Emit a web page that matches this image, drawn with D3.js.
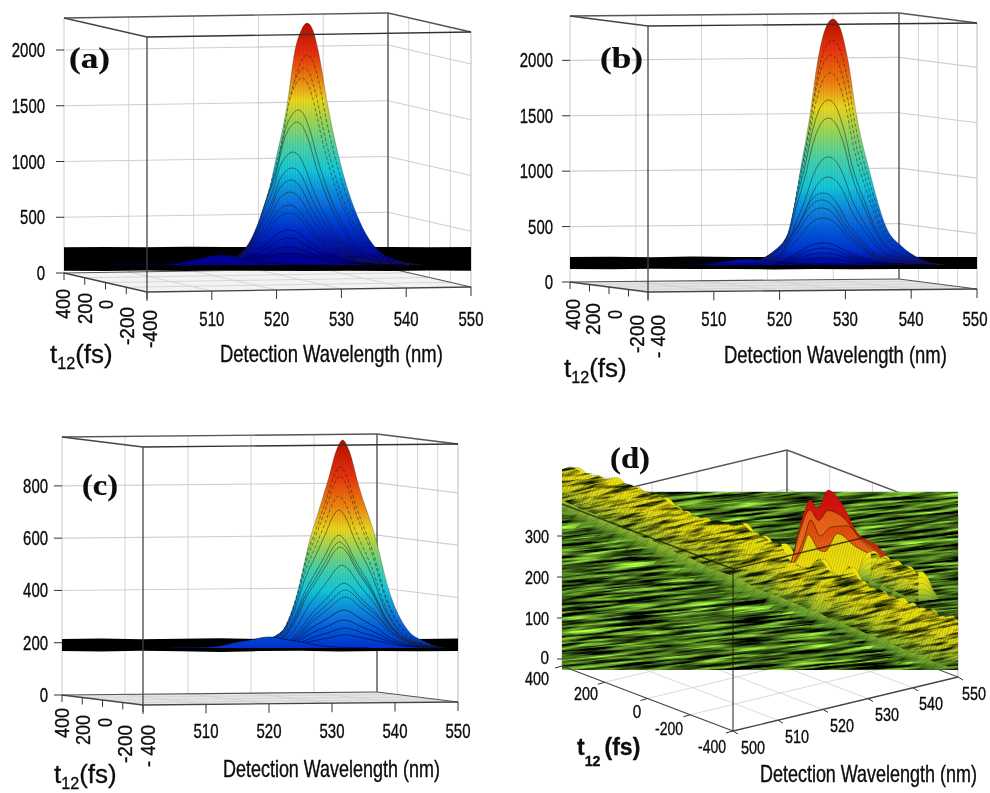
<!DOCTYPE html>
<html><head><meta charset="utf-8">
<script src="https://cdn.jsdelivr.net/npm/d3@7"></script>
<style>html,body{margin:0;padding:0;background:#fff}svg{display:block}</style>
</head><body><div id="chart"></div>
<script>
// ---------- values ----------
const wavelengthTicks = [500, 510, 520, 530, 540, 550];
const delayTicks = [-400, -200, 0, 200, 400];
const countTicksA = [0, 500, 1000, 1500, 2000];
const countTicksB = [0, 500, 1000, 1500, 2000];
const countTicksC = [0, 200, 400, 600, 800];
const countTicksD = [0, 100, 200, 300];

const bandWavelengths = [500, 505, 510, 515, 520, 525, 530, 535, 540, 545, 550];
const aBandHi = [232, 234, 231, 236, 233, 232, 230, 233, 234, 232, 233];
const aBandLo = [20, 18, 22, 19, 24, 20, 17, 21, 19, 22, 20];
const bBandHi = [225, 227, 224, 229, 226, 225, 224, 226, 228, 225, 226];
const bBandLo = [117, 115, 119, 116, 118, 113, 117, 115, 118, 116, 117];
const cBandHi = [214, 216, 213, 215, 217, 214, 213, 216, 215, 214, 216];
const cBandLo = [168, 166, 169, 167, 165, 168, 169, 166, 168, 167, 168];

// apex count and peak wavelength of each t12 slice, tallest first
const aApex = [2242, 1955, 1839, 1749, 1462, 1354, 1085, 942, 834, 726, 610, 538, 386, 314, 233, 179, 161];
const aCentre = [524.7, 524.7, 524.2, 523.9, 523.3, 523.1, 522.5, 522.4, 522.2, 522.1, 521.9, 521.9, 521.9, 521.9, 521.9, 521.9, 511.5];
const bApex = [2370, 2180, 2045, 1883, 1640, 1477, 1126, 946, 802, 739, 667, 577, 351, 306, 261, 216, 205];
const bCentre = [528.1, 528.0, 527.8, 527.7, 527.4, 527.4, 527.4, 527.4, 526.6, 526.4, 526.4, 526.6, 526.6, 526.6, 526.6, 526.6, 515];
const cApex = [976, 873, 838, 762, 708, 612, 586, 566, 497, 428, 402, 375, 325, 287, 256, 230, 222];
const cCentre = [531.7, 531.3, 531.3, 531.1, 531.1, 531.1, 531.2, 531.3, 531.6, 531.9, 532.1, 532.1, 531.9, 531.9, 532.1, 532.1, 520];

// spectral line shape: offset from the peak (nm) and relative height
const aShapeOffset = [-17, -14, -11, -8.5, -6.8, -4.9, -3.1, -1.85, -0.9, 0, 0.9, 1.7, 3.2, 5.1, 7.9, 10.5, 13.9, 18];
const aShapeHeight = [0, 0.01, 0.03, 0.08, 0.19, 0.425, 0.657, 0.888, 0.97, 1, 0.97, 0.888, 0.657, 0.425, 0.194, 0.074, 0.02, 0];
const bShapeOffset = [-17, -13, -9.3, -6.5, -5, -3.5, -2.3, -1, 0, 1, 2.3, 3.6, 5.6, 8.2, 10.5, 12.9, 17];
const bShapeHeight = [0, 0.01, 0.05, 0.148, 0.377, 0.606, 0.83, 0.97, 1, 0.97, 0.83, 0.606, 0.377, 0.148, 0.075, 0.03, 0];
const cShapeOffset = [-16, -14, -9.4, -7, -5.4, -3.8, -2.2, -1, 0, 1, 2.5, 5.2, 7.3, 10.3, 12.7, 16];
const cShapeHeight = [0, 0.02, 0.087, 0.28, 0.5, 0.66, 0.82, 0.95, 1, 0.95, 0.784, 0.53, 0.28, 0.087, 0.035, 0];

// panel (d): ridge stations
const ridgeWavelengths = [500, 501.25, 502.5, 503.75, 505, 506.25, 507.5, 508.75, 510, 511.25, 512.5, 513.75, 515, 516.25, 517.5, 518.75, 520, 521.25, 522.5, 523.75, 525, 526.25, 527.5, 528.75, 530, 531.25, 532.5, 533.75, 535, 536.25, 537.5, 538.75, 540, 541.25, 542.5, 543.75, 545, 546.25, 547.5, 548.75, 550];
const ridgeCrest = [457, 465, 449, 447, 437, 441, 425, 419, 406, 400, 392, 372, 360, 347, 343, 333, 330, 325, 330, 307, 299, 282, 280, 234, 221, 217, 242, 209, 197, 221, 189, 173, 165, 152, 148, 136, 124, 120, 104, 104, 94];
const ridgeFloor = [388, 376, 364, 356, 343, 331, 319, 311, 299, 291, 278, 266, 254, 246, 234, 221, 213, 205, 193, 181, 169, 160, 152, 140, 132, 120, 112, 99, 91, 79, 71, 59, 51, 39, 30, 18, 10, -2, -10, -18, -22];
const ridgeSplitAt = 23; // stations before this index lie behind the double peak
const shoulderWavelengths = [539, 540.5, 542, 543.5, 545];
const shoulderCrest = [262, 250, 238, 225, 212];
const shoulderFloor = [190, 178, 165, 152, 140];
const humpOffset = [-1, -0.7, -0.4, -0.15, 0.15, 0.4, 0.7, 1];
const humpHeight = [0, 0.2, 0.7, 0.97, 1, 0.8, 0.3, 0];
const ridgeLayers = [0, 0.2, 0.4, 0.6, 0.8];

// panel (d): double peak, back to front
const lobeWavelengths = [
  [527.8, 529, 529.8, 530.7, 531.3, 532.3, 533.6, 535.3, 537.2, 539.9, 542],
  [528, 529, 530, 531.3, 532.4, 533.6, 535.5, 537.5, 540, 542],
  [528, 529.3, 530.5, 531.4, 532.6, 534, 536, 538, 540, 542],
  [528, 529.2, 530.3, 531.1, 532.5, 533.2, 534.8, 537, 539.5, 542]
];
const lobeCounts = [
  [215, 242, 307, 364, 388, 368, 412, 380, 311, 274, 230],
  [215, 240, 310, 364, 338, 362, 345, 298, 262, 225],
  [215, 238, 290, 339, 300, 322, 325, 285, 258, 225],
  [215, 230, 265, 303, 265, 262, 306, 275, 250, 225]
];
const lobeTopColours = ["#d40a0a", "#ee5a16", "#e6400e", "#ecd210"];
const lobeBottomColours = ["#e8300e", "#f0841a", "#f0801a", "#f0e410"];

const jetColours = ["#b80f00", "#e8320c", "#ef8210", "#ebd81e", "#98d75a", "#46d2aa", "#14c8dc", "#0a78e1", "#0032d2", "#000096"];
const aJetStops = [0, 0.13, 0.23, 0.32, 0.41, 0.52, 0.61, 0.73, 0.85, 0.97];
const bJetStops = [0, 0.12, 0.26, 0.36, 0.46, 0.57, 0.68, 0.80, 0.94, 1];
const cJetStops = [0, 0.17, 0.31, 0.43, 0.52, 0.62, 0.72, 0.85, 1, 1];

// ---------- layout ----------
const W = 990, H = 793;
const svg = d3.select("#chart").append("svg").attr("width", W).attr("height", H);
const defs = svg.append("defs");
const soft = defs.append("filter").attr("id", "soft").attr("x", 0).attr("y", 0).attr("width", 1).attr("height", 1)
  .attr("filterUnits", "objectBoundingBox");
soft.append("feGaussianBlur").attr("stdDeviation", 0.45);
const root = svg.append("g").attr("filter", "url(#soft)");
root.append("rect").attr("width", W).attr("height", H).attr("fill", "#fff");

const sans = "'Liberation Sans', Arial, sans-serif", serif = "'Liberation Serif', 'Times New Roman', serif";
function label(g, s, x, y, o = {}) {
  const t = g.append("text").attr("font-family", o.family || sans).attr("font-size", o.size || 19)
    .attr("font-weight", o.weight || "normal").attr("fill", "#0a0a0a")
    .attr("stroke", "#0a0a0a").attr("stroke-width", o.weight ? 0.2 : 0.35)
    .attr("text-anchor", o.anchor || "middle").text(s);
  const len = t.node().getComputedTextLength();
  const sx = o.width && len ? o.width / len : 1;
  t.attr("transform", `translate(${x},${y})` + (o.rotate ? ` rotate(${o.rotate})` : "") + ` scale(${sx},1)`);
  return t;
}
function subLabel(g, x, y, size, weight, gap, sub) {
  const t = g.append("text").attr("x", x).attr("y", y).attr("font-family", sans).attr("font-size", size)
    .attr("font-weight", weight).attr("fill", "#0a0a0a").attr("stroke", "#0a0a0a").attr("stroke-width", 0.3);
  t.append("tspan").text("t");
  t.append("tspan").attr("dy", sub).attr("font-size", size * 0.62).text("12");
  t.append("tspan").attr("dy", -sub).attr("dx", gap).text("(fs)");
}

function projector(p) {
  const u = d3.scaleLinear().domain([500, 550]).range([0, 1]);
  const v = d3.scaleLinear().domain([-400, 400]).range([0, 1]);
  const h = d3.scaleLinear().domain([0, p.zTop]).range([0, p.boxH]);
  return (wl, t, z) => [
    p.fl[0] + u(wl) * (p.fr[0] - p.fl[0]) + v(t) * (p.bl[0] - p.fl[0]),
    p.fl[1] + u(wl) * (p.fr[1] - p.fl[1]) + v(t) * (p.bl[1] - p.fl[1]) - h(z)
  ];
}
function seg(g, a, b, stroke, width, opacity) {
  g.append("line").attr("x1", a[0]).attr("y1", a[1]).attr("x2", b[0]).attr("y2", b[1])
    .attr("stroke", stroke).attr("stroke-width", width).attr("stroke-opacity", opacity === undefined ? 1 : opacity);
}
function drawBackBox(g, P, p, ticks) {
  const zt = p.zTop;
  g.append("path").attr("d", d3.line()([P(500,-400,0), P(550,-400,0), P(550,400,0), P(500,400,0)]) + "Z").attr("fill", p.floor);
  wavelengthTicks.slice(1, 5).forEach(w => {
    seg(g, P(w,400,0), P(w,400,zt), "#d4d4d4", 1);
    seg(g, P(w,-400,0), P(w,400,0), "#cfcfcf", 0.8);
  });
  delayTicks.slice(1, 4).forEach(t => {
    seg(g, P(550,t,0), P(550,t,zt), "#d4d4d4", 1);
    seg(g, P(500,t,0), P(550,t,0), "#cfcfcf", 0.8);
  });
  ticks.forEach(z => { if (z > 0) {
    seg(g, P(500,400,z), P(550,400,z), "#cfcfcf", 1.1);
    seg(g, P(550,400,z), P(550,-400,z), "#cfcfcf", 1.1);
  }});
  seg(g, P(500,400,0), P(500,400,zt), "#cccccc", 1);
  seg(g, P(550,-400,0), P(550,-400,zt), "#bbbbbb", 1);
  seg(g, P(550,400,0), P(550,400,zt), "#444", 1.3);
  seg(g, P(500,400,zt), P(550,400,zt), "#555", 1.4);
  seg(g, P(550,400,zt), P(550,-400,zt), "#555", 1.4);
  seg(g, P(500,400,0), P(550,400,0), "#555", 1.2);
  seg(g, P(550,400,0), P(550,-400,0), "#555", 1.2);
}
function drawFrontBox(g, P, p) {
  const zt = p.zTop, o = p.frontOpacity || 1;
  seg(g, P(500,-400,0), P(500,-400,zt), p.frontStroke || "#444", 1.3, o);
  seg(g, P(500,-400,zt), P(550,-400,zt), p.frontStroke || "#333", 1.4, o);
  seg(g, P(500,-400,zt), P(500,400,zt), p.frontStroke || "#444", 1.4, o);
  seg(g, P(500,-400,0), P(550,-400,0), "#444", 1.3);
  seg(g, P(500,-400,0), P(500,400,0), "#444", 1.3);
}

function surfacePanel(p) {
  const g = root.append("g");
  const P = projector(p);
  drawBackBox(g, P, p, p.ticks);
  const x = d3.scaleLinear().domain([500, 550]).range(p.xFront);
  const y = d3.scaleLinear().domain([0, 2000]).range([p.y0, p.y0 - p.perCount * 2000]);
  const bandX = d3.scaleLinear().domain([500, 550]).range(p.xBand);

  g.append("path").attr("fill", "#000").attr("d", d3.area().x((d, i) => bandX(d)).y0((d, i) => y(p.bandLo[i])).y1((d, i) => y(p.bandHi[i]))(bandWavelengths));

  const gradId = "jet" + p.id;
  const grad = defs.append("linearGradient").attr("id", gradId).attr("gradientUnits", "userSpaceOnUse")
    .attr("x1", 0).attr("x2", 0).attr("y1", y(p.apex[0])).attr("y2", y(p.base));
  jetColours.forEach((c, i) => grad.append("stop").attr("offset", Math.min(1, p.jetStops[i])).attr("stop-color", c));

  const pts = (i) => p.shapeOffset.map((o, k) => [p.centre[i] + o, p.base + p.shapeHeight[k] * (p.apex[i] - p.base)]);
  const area = d3.area().x(d => x(d[0])).y0(y(p.base)).y1(d => y(d[1])).curve(d3.curveMonotoneX);
  const line = d3.line().x(d => x(d[0])).y(d => y(d[1])).curve(d3.curveMonotoneX);

  const clip = defs.append("clipPath").attr("id", "clip" + p.id);
  p.apex.forEach((_, i) => clip.append("path").attr("d", area(pts(i))));

  p.apex.forEach((_, i) => {
    g.append("path").attr("d", area(pts(i))).attr("fill", `url(#${gradId})`);
    g.append("path").attr("d", line(pts(i))).attr("fill", "none")
      .attr("stroke", i > 11 ? "#00052a" : "#1a1a1a").attr("stroke-opacity", i === 0 ? 0.3 : 0.55).attr("stroke-width", i > 11 ? 1 : 0.9)
      .attr("stroke-dasharray", (i === 1 || i === 2 || i === 3) ? "3.5,2" : null);
  });
  const mesh = g.append("g").attr("clip-path", `url(#clip${p.id})`);
  d3.range(504, 548, 0.42).forEach(w => seg(mesh, [x(w), y(2500)], [x(w), y(p.base)], "#000", 0.6, 0.12));

  drawFrontBox(g, P, p);

  p.ticks.forEach(z => {
    const a = P(500, 400, z);
    seg(g, [a[0] - 8, a[1]], a, "#333", 1);
    label(g, d3.format("d")(z), p.zLabelX, a[1] + 7, { anchor: "end", width: String(z).length * 8.3, size: 20 });
  });
  wavelengthTicks.forEach((w, i) => {
    const a = P(w, -400, 0);
    seg(g, a, [a[0], a[1] + 9], "#333", 1);
    if (i > 0) label(g, String(w), Math.min(a[0], 975), p.wlLabelY, { width: 25, size: 20 });
  });
  delayTicks.forEach((t, i) => {
    const a = P(500, t, 0);
    seg(g, a, [a[0], a[1] + 7], "#333", 1);
    const [lx, ly] = p.delayLabel[i];
    label(g, p.delayText[i], lx, ly, { anchor: "end", rotate: -90, size: 21, width: p.delayWidth[i] });
  });
  label(g, "Detection Wavelength (nm)", p.title[0], p.title[1], { anchor: "start", size: 23, width: p.title[2] });
  subLabel(g, p.t12[0], p.t12[1], 26, "normal", 0, 6);
  label(g, p.name, p.tag[0], p.tag[1], { anchor: "start", family: serif, weight: "bold", size: 30, width: p.tag[2] });
}

surfacePanel({
  id: "a", name: "(a)", ticks: countTicksA, fl: [147, 292], fr: [471, 287], bl: [64, 273], zTop: 2287, boxH: 255,
  floor: "#f3f3f3", xFront: [147, 471], xBand: [64, 471], y0: 273, perCount: 0.1115, base: 72,
  bandHi: aBandHi, bandLo: aBandLo, apex: aApex, centre: aCentre, shapeOffset: aShapeOffset, shapeHeight: aShapeHeight, jetStops: aJetStops,
  zLabelX: 45, wlLabelY: 326, delayText: ["-400", "-200", "0", "200", "400"],
  delayLabel: [[157, 310], [134, 307], [113, 300], [92, 293], [70, 289]], delayWidth: [38, 38, 9, 31, 30],
  title: [220, 362, 223], t12: [50, 363], tag: [69, 68, 41]
});
surfacePanel({
  id: "b", name: "(b)", ticks: countTicksB, fl: [648, 292], fr: [977, 289], bl: [570, 282], zTop: 2400, boxH: 266,
  floor: "#e6e6e6", xFront: [648, 977], xBand: [570, 977], y0: 282, perCount: 0.111, base: 153,
  bandHi: bBandHi, bandLo: bBandLo, apex: bApex, centre: bCentre, shapeOffset: bShapeOffset, shapeHeight: bShapeHeight, jetStops: bJetStops,
  zLabelX: 553, wlLabelY: 326, delayText: ["- 400", "-200", "0", "200", "400"],
  delayLabel: [[665, 315], [644, 315], [622, 310], [600, 303], [580, 299]], delayWidth: [43, 38, 9, 32, 31],
  title: [724, 363, 223], t12: [564, 377], tag: [600, 68, 43]
});
surfacePanel({
  id: "c", name: "(c)", ticks: countTicksC, fl: [143, 705], fr: [458, 702], bl: [62, 695], zTop: 987, boxH: 258,
  floor: "#e6e6e6", xFront: [143, 458], xBand: [62, 458], y0: 695, perCount: 0.2613, base: 180,
  bandHi: cBandHi, bandLo: cBandLo, apex: cApex, centre: cCentre, shapeOffset: cShapeOffset, shapeHeight: cShapeHeight, jetStops: cJetStops,
  zLabelX: 48, wlLabelY: 738, delayText: ["- 400", "-200", "0", "200", "400"],
  delayLabel: [[155, 725], [132, 725], [112, 718], [90, 715], [69, 708]], delayWidth: [42, 38, 9, 30, 30],
  title: [223, 777, 217], t12: [54, 783], tag: [82, 495, 36]
});

// ---------- panel (d) ----------
(function () {
  const p = { id: "d", fl: [733, 731], fr: [958, 677], bl: [562, 666], zTop: 395, boxH: 162, floor: "#ffffff", frontStroke: "#1a1a00", frontOpacity: 0.75 };
  const g = root.append("g");
  const P = projector(p);
  drawBackBox(g, P, p, countTicksD);

  const x = d3.scaleLinear().domain([500, 550]).range([562, 958]);
  const y = d3.scaleLinear().domain([0, 300]).range([659, 536]);

  const wallClip = defs.append("clipPath").attr("id", "wallClip");
  wallClip.append("rect").attr("x", x(500)).attr("y", y(408)).attr("width", x(550) - x(500)).attr("height", y(-27) - y(408));
  const noise = defs.append("filter").attr("id", "streaks").attr("x", 0).attr("y", 0).attr("width", 1).attr("height", 1)
    .attr("color-interpolation-filters", "sRGB");
  noise.append("feTurbulence").attr("type", "fractalNoise").attr("baseFrequency", "0.018 0.34").attr("numOctaves", 3).attr("seed", 7);
  noise.append("feColorMatrix").attr("type", "matrix").attr("values",
    "1.5 0 0 0 -0.5  2.2 0 0 0 -0.70  0.6 0 0 0 -0.2  0 0 0 0 1");
  g.append("g").attr("clip-path", "url(#wallClip)").append("rect")
    .attr("x", 500).attr("y", 420).attr("width", 520).attr("height", 320)
    .attr("transform", "rotate(-6 760 580)").attr("filter", "url(#streaks)");

  const ridgeClip = defs.append("clipPath").attr("id", "ridgeClip");
  ridgeClip.append("rect").attr("x", x(500)).attr("y", 440).attr("width", x(550) - x(500)).attr("height", y(-27) - 440);
  const humpStops = [
    [["#f2e410", 1], ["#e6dc14", 1], ["#b4cc28", 0.8], ["#5f9a30", 0]],
    [["#f0e212", 1], ["#d8d81c", 0.95], ["#a0c42e", 0.7], ["#4f8a2c", 0]],
    [["#e8de16", 1], ["#c4d024", 0.9], ["#88b832", 0.6], ["#4a8a2c", 0]],
    [["#d0d020", 1], ["#a8c42c", 0.85], ["#70a830", 0.5], ["#3f7a2a", 0]],
    [["#a8c42c", 0.9], ["#86b032", 0.7], ["#5f9830", 0.4], ["#3a7028", 0]]
  ];
  humpStops.forEach((st, k) => {
    const gr = defs.append("linearGradient").attr("id", "hump" + k).attr("x1", 0).attr("x2", 0).attr("y1", 0).attr("y2", 1);
    st.forEach((s, i) => gr.append("stop").attr("offset", [0, 0.3, 0.65, 1][i]).attr("stop-color", s[0]).attr("stop-opacity", s[1]));
  });
  const meshP = defs.append("pattern").attr("id", "meshD").attr("patternUnits", "userSpaceOnUse").attr("width", 2.6).attr("height", 8)
    .attr("patternTransform", "skewX(-14)");
  meshP.append("rect").attr("width", 0.7).attr("height", 8).attr("fill", "#2a3000").attr("fill-opacity", 0.22);

  const humpArea = d3.area().x(d => d[0]).y0(d => d[2]).y1(d => d[1]).curve(d3.curveMonotoneX);
  const humpLine = d3.line().x(d => d[0]).y(d => d[1]).curve(d3.curveMonotoneX);
  function hump(target, wl, crest, floor, hw) {
    ridgeLayers.forEach((f, k) => {
      const top = crest - f * (crest - floor);
      const amp = y(floor) - y(top);
      const pts = humpOffset.map((o, i) => {
        const px = x(wl) + o * hw, tilt = -0.14 * o * hw;
        return [px, y(top) + amp * (1 - humpHeight[i]) + tilt, y(floor) + tilt];
      });
      target.append("path").attr("d", humpArea(pts)).attr("fill", `url(#hump${k})`);
      target.append("path").attr("d", humpLine(pts)).attr("fill", "none").attr("stroke", "#2c2a00")
        .attr("stroke-opacity", 0.3).attr("stroke-width", 0.7);
    });
  }
  const rg = g.append("g").attr("clip-path", "url(#ridgeClip)");
  ridgeWavelengths.slice(0, ridgeSplitAt).forEach((w, i) => hump(rg, w, ridgeCrest[i], ridgeFloor[i], 36));

  const lobeArea = d3.area().x(d => x(d[0])).y0(y(205)).y1(d => y(d[1])).curve(d3.curveMonotoneX);
  const lobeLine = d3.line().x(d => x(d[0])).y(d => y(d[1])).curve(d3.curveMonotoneX);
  lobeWavelengths.forEach((ws, k) => {
    const lg = defs.append("linearGradient").attr("id", "lobe" + k).attr("x1", 0).attr("x2", 0).attr("y1", 0).attr("y2", 1);
    lg.append("stop").attr("offset", 0).attr("stop-color", lobeTopColours[k]);
    lg.append("stop").attr("offset", 1).attr("stop-color", lobeBottomColours[k]);
    const pts = ws.map((w, i) => [w, lobeCounts[k][i]]);
    g.append("path").attr("d", lobeArea(pts)).attr("fill", `url(#lobe${k})`);
    g.append("path").attr("d", lobeArea(pts)).attr("fill", "url(#meshD)");
    g.append("path").attr("d", lobeLine(pts)).attr("fill", "none").attr("stroke", "#3a1400")
      .attr("stroke-opacity", k === 0 ? 0.25 : 0.65).attr("stroke-width", 0.9);
  });

  const rf = g.append("g").attr("clip-path", "url(#ridgeClip)");
  shoulderWavelengths.forEach((w, i) => hump(rf, w, shoulderCrest[i], shoulderFloor[i], 22));
  ridgeWavelengths.slice(ridgeSplitAt).forEach((w, i) => hump(rf, w, ridgeCrest[i + ridgeSplitAt], ridgeFloor[i + ridgeSplitAt], 30));

  // fine dark scan lines over the ridge, cut to the ridge's own outline
  const ridgeShape = defs.append("clipPath").attr("id", "ridgeShape");
  ridgeShape.append("path").attr("d", d3.area().x(d => x(d)).y0((d, i) => y(ridgeFloor[i])).y1((d, i) => y(ridgeCrest[i] + 6))(ridgeWavelengths));
  ridgeShape.append("path").attr("d", d3.area().x(d => x(d)).y0((d, i) => y(shoulderFloor[i])).y1((d, i) => y(shoulderCrest[i]))(shoulderWavelengths));
  const scan = defs.append("filter").attr("id", "scan").attr("x", 0).attr("y", 0).attr("width", 1).attr("height", 1)
    .attr("color-interpolation-filters", "sRGB");
  scan.append("feTurbulence").attr("type", "fractalNoise").attr("baseFrequency", "0.035 0.32").attr("numOctaves", 3).attr("seed", 12);
  scan.append("feColorMatrix").attr("type", "matrix").attr("values",
    "0 0 0 0 0.06  0 0 0 0 0.1  0 0 0 0 0  3.2 0 0 0 -1.35");
  g.append("g").attr("clip-path", "url(#ridgeShape)").append("rect")
    .attr("x", 500).attr("y", 400).attr("width", 520).attr("height", 340)
    .attr("transform", "rotate(-12 760 570)").attr("filter", "url(#scan)");
  const meshOver = g.append("g").attr("clip-path", "url(#ridgeShape)");
  meshOver.append("rect").attr("x", 540).attr("y", 440).attr("width", 440).attr("height", 250).attr("fill", "url(#meshD)");

  drawFrontBox(g, P, p);

  countTicksD.forEach(z => {
    seg(g, [x(500) - 5, y(z)], [x(500), y(z)], "#333", 1);
    label(g, String(z), 549, y(z) + (z === 0 ? 5 : 7), { anchor: "end", size: 19, width: z === 0 ? 8.5 : 24 });
  });
  const dDelayLabels = [[712, 753], [669, 735], [637, 718], [586, 700], [537, 685]];
  delayTicks.forEach((t, i) => {
    const a = P(500, t, 0);
    seg(g, a, [a[0] - 7, a[1] + 2], "#333", 1);
    label(g, String(t), dDelayLabels[i][0], dDelayLabels[i][1], { size: 19, width: t === 0 ? 8.5 : (t < 0 ? 28 : 24) });
  });
  const dWlLabels = [[753, 754], [797, 743], [842, 732], [887, 721], [931, 710], [974, 700]];
  wavelengthTicks.forEach((w, i) => {
    const a = P(w, -400, 0);
    seg(g, a, [a[0] + 5, a[1] + 3], "#333", 1);
    label(g, String(w), dWlLabels[i][0], dWlLabels[i][1], { size: 19, width: 24 });
  });
  label(g, "Detection Wavelength (nm)", 760, 782, { anchor: "start", size: 23, width: 217 });
  subLabel(g, 577, 755, 23, "bold", 4, 11);
  label(g, "(d)", 610, 468, { anchor: "start", family: serif, weight: "bold", size: 30, width: 40 });
})();
</script></body></html>
